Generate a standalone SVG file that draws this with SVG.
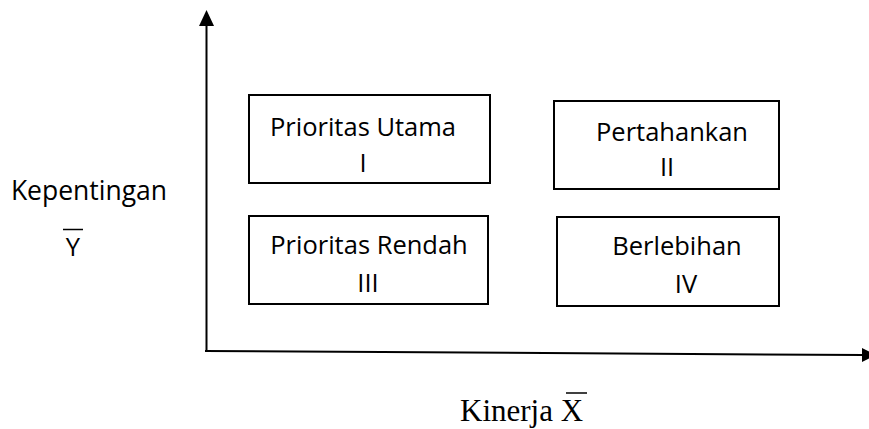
<svg xmlns="http://www.w3.org/2000/svg" width="869" height="429" viewBox="0 0 869 429">
<style>
.box{fill:#fff;stroke:#000;stroke-width:2}
.t{font-family:"Open Sans","Noto Sans",sans-serif;font-size:25.5px;fill:#000;text-anchor:middle}
.s{font-family:"Liberation Serif",serif;font-size:31px;fill:#000}
.ax{stroke:#000;stroke-width:2;fill:none}
</style>
<rect width="869" height="429" fill="#fff"/>
<g id="axes">
<line class="ax" x1="206.5" y1="24" x2="206.5" y2="352"/>
<polygon points="206.5,10 199,26 214,26" fill="#000"/>
<line class="ax" x1="205" y1="351" x2="864" y2="355"/>
<polygon points="876,355 862,348 862,362" fill="#000"/>
</g>
<g id="q1">
<rect class="box" x="249" y="95" width="241" height="88"/>
<text class="t" x="363" y="136">Prioritas Utama</text>
<text class="t" x="363" y="172">I</text>
</g>
<g id="q2">
<rect class="box" x="554" y="101" width="225" height="88"/>
<text class="t" x="672" y="141">Pertahankan</text>
<text class="t" x="667" y="176">II</text>
</g>
<g id="q3">
<rect class="box" x="249" y="216" width="239" height="88"/>
<text class="t" x="369" y="254">Prioritas Rendah</text>
<text class="t" x="368" y="292">III</text>
</g>
<g id="q4">
<rect class="box" x="557" y="217" width="222" height="89"/>
<text class="t" x="677" y="255">Berlebihan</text>
<text class="t" x="686" y="293">IV</text>
</g>
<g id="ylabel">
<text class="t" x="89" y="200" style="font-size:26.5px">Kepentingan</text>
<text class="t" x="73" y="256">Y</text>
<line x1="63" y1="229.5" x2="83" y2="229.5" stroke="#000" stroke-width="1.5"/>
</g>
<g id="xlabel">
<text class="s" x="460" y="421">Kinerja X</text>
<line x1="566" y1="393" x2="587" y2="393" stroke="#000" stroke-width="1.5"/>
</g>
</svg>
